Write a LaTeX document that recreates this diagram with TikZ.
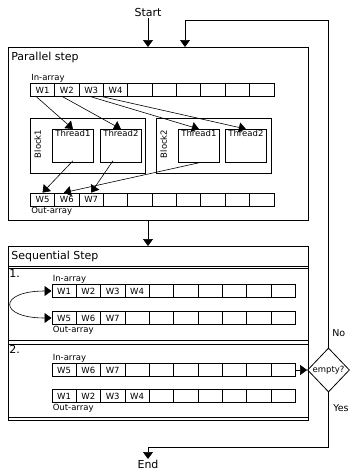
\documentclass[tikz,border=0pt]{standalone}
\usepackage{fontspec}
\setmainfont{DejaVu Sans}
\usetikzlibrary{arrows.meta,shapes.geometric}

\tikzset{
  >={Triangle[length=7pt,width=10pt]},
  box/.style={draw, line width=0.8pt, inner sep=0pt, anchor=north west},
  cell/.style={draw, line width=0.7pt, minimum width=24.35pt, minimum height=13pt, inner sep=0pt, anchor=west},
  small/.style={font=\fontsize{8.5}{10}\selectfont, inner sep=1pt},
  big/.style={font=\fontsize{11}{13}\selectfont, inner sep=1pt},
  side/.style={font=\fontsize{9.5}{11}\selectfont, inner sep=1pt, anchor=west},
}

% a row of ten cells: name, left x, centre y, texts of the first cells
\newcommand{\warray}[4]{%
  \foreach \i in {1,...,10}
    \node[cell] (#1\i) at ({#2+(\i-1)*24.35},#3) {};
  \foreach \t [count=\i] in {#4}
    \node[small] (#1t\i) at (#1\i) {\t};
}

\begin{document}
\begin{tikzpicture}[x=1pt, y=-1pt, line width=0.6pt]
\useasboundingbox (0,0) rectangle (350,471);

% parallel step
\node[box, minimum width=300pt, minimum height=173pt] (par) at (8,47) {};
\node[big, anchor=west] (partitle) at (10,57) {Parallel step};
\warray{pa}{30}{90}{W1,W2,W3,W4}
\node[small, anchor=south west] (pain) at (pa1.north west) {In-array};
\warray{po}{30}{199.5}{W5,W6,W7}
\node[small, anchor=north west] (poout) at (po1.south west) {Out-array};

\node[box, minimum width=115pt, minimum height=55pt] (blk1) at (30,118) {};
\node[box, minimum width=115pt, minimum height=55pt] (blk2) at (156,118) {};
\node[small, rotate=90, anchor=north] (blk1l) at ([xshift=3pt,yshift=2pt]blk1.west) {Block1};
\node[small, rotate=90, anchor=north] (blk2l) at ([xshift=3pt,yshift=2pt]blk2.west) {Block2};
\node[box, minimum width=41pt, minimum height=33pt] (b1t1) at (52,129) {};
\node[box, minimum width=41pt, minimum height=33pt] (b1t2) at (100,129) {};
\node[box, minimum width=41pt, minimum height=33pt] (b2t1) at (178,129) {};
\node[box, minimum width=41pt, minimum height=33pt] (b2t2) at (225,129) {};
\node[small, anchor=north] (b1t1l) at (b1t1.north) {Thread1};
\node[small, anchor=north] (b1t2l) at (b1t2.north) {Thread2};
\node[small, anchor=north] (b2t1l) at (b2t1.north) {Thread1};
\node[small, anchor=north] (b2t2l) at (b2t2.north) {Thread2};

\draw[->] ([xshift=-6pt]pa1.south) -- (b1t1.north);
\draw[->] ([xshift=-4pt]pa2.south) -- (b1t2.north);
\draw[->] (pa3.south) -- (b2t1.north);
\draw[->] (pa4.south west) -- (b2t2.north);
\draw[->] ([yshift=2pt]b1t1.south) -- (po1.north);
\draw[->] ([xshift=-8pt,yshift=2pt]b1t2.south) -- (po3.north);
\draw[->] (b2t1.south) -- ([xshift=-3pt]po2.north);

% sequential step
\node[box, minimum width=300pt, minimum height=174pt] (seq) at (8,246) {};
\node[big, anchor=west] (seqtitle) at (10,256) {Sequential Step};
\draw[line width=0.8pt] ([yshift=-20pt]seq.north west) -- ([yshift=-20pt]seq.north east);
\node[box, minimum width=300pt, minimum height=72pt] (sub1) at (8,268) {};
\node[box, minimum width=300pt, minimum height=73pt] (sub2) at (8,344) {};
\node[big, anchor=north west] (n1) at (sub1.north west) {1.};
\node[big, anchor=north west] (n2) at (sub2.north west) {2.};

\warray{sa}{51.5}{291}{W1,W2,W3,W4}
\node[small, anchor=south west] (sain) at (sa1.north west) {In-array};
\warray{sb}{51.5}{318}{W5,W6,W7}
\node[small, anchor=north west] (sbout) at (sb1.south west) {Out-array};
\draw[<->] (sa1.west) .. controls (-2,291) and (-2,318) .. (sb1.west);

\warray{sc}{51.5}{370}{W5,W6,W7}
\node[small, anchor=south west] (scin) at (sc1.north west) {In-array};
\warray{sd}{51.5}{396}{W1,W2,W3,W4}
\node[small, anchor=north west] (sdout) at (sd1.south west) {Out-array};

% test and flow
\node[draw, diamond, line width=0.8pt, minimum width=42pt, minimum height=44pt,
  inner sep=0pt, font=\fontsize{8.5}{10}\selectfont] (empty) at (328.5,370) {empty?};
\node[side] (no) at (331,333) {No};
\node[side] (yes) at (332,408) {Yes};
\draw[->] (sc10.east) -- (empty.west);

\node[big, anchor=south] (start) at (148,18) {Start};
\node[big, anchor=north] (end) at (148,459) {End};
\coordinate (looptop) at (185,20);
\coordinate (endturn) at (148,447);
\draw[->] (start.south) -- (start.south |- par.north);
\draw[->] (start.south |- par.south) -- (start.south |- seq.north);
\draw[->] (empty.north) |- (looptop) -- (looptop |- par.north);
\draw[->] (empty.south) |- (endturn) -- (end.north);
\end{tikzpicture}
\end{document}
